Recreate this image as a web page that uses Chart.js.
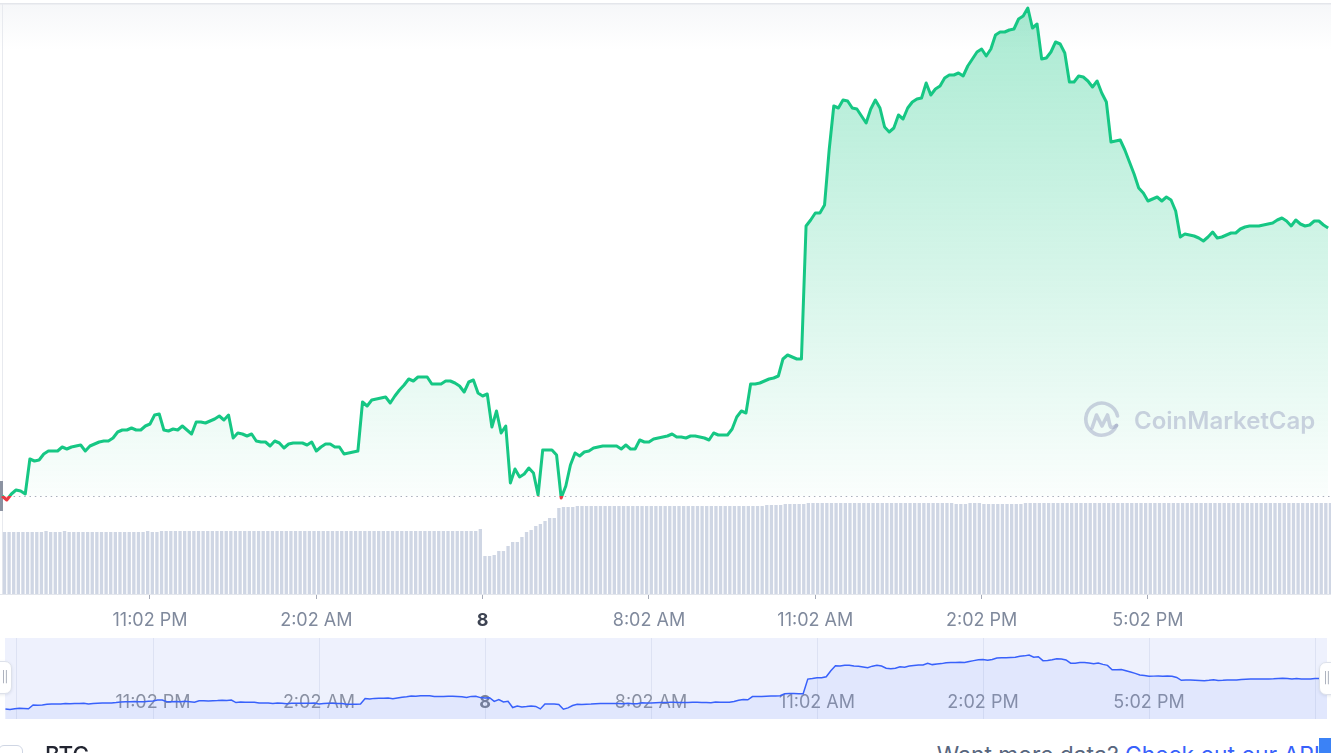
<!DOCTYPE html>
<html>
<head>
<meta charset="utf-8">
<script src="https://cdn.jsdelivr.net/npm/chart.js@4.4.1/dist/chart.umd.min.js"></script>
<style>
    html, body {
        margin: 0;
        padding: 0;
        width: 1331px;
        height: 753px;
        overflow: hidden;
        background: #fff;
        font-family: Inter, "Noto Sans", sans-serif;
    }
    .top-shade {
        position: absolute; left: 0; top: 0; width: 1331px; height: 50px;
        background: linear-gradient(#fff 0, #fff 3px, #e4e6eb 3px, #e4e6eb 4px, #f6f7f9 5px, #fff 50px);
    }
    .left-rule { position: absolute; left: 2px; top: 4px; width: 1px; height: 590px; background: #e8eaef; }
    .price-tag { position: absolute; left: 0; top: 481px; width: 3px; height: 30px; background: #8c93a2; }
    #main-wrap { position: absolute; left: 0; top: 0; width: 1331px; height: 636px; }
    .watermark {
        position: absolute; left: 1083px; top: 401px; height: 38px;
        display: flex; align-items: center; gap: 13px;
        color: rgba(150, 158, 190, 0.45);
        font-size: 24px; font-weight: 600; pointer-events: none;
    }
    #nav-wrap { position: absolute; left: 5px; top: 638px; width: 1322px; height: 81px; background: #eef1fd; }
    .handle {
        position: absolute; width: 13px; height: 31px; background: #fff;
        border: 1px solid #dde1ea; box-shadow: 0 1px 3px rgba(88, 102, 126, 0.15);
        color: #a1a7b5; font-size: 11px; line-height: 31px; text-align: center; letter-spacing: -1px;
    }
    .handle.left { left: -3px; top: 661px; border-radius: 0 7px 7px 0; }
    .handle.right { left: 1319px; top: 662px; border-radius: 7px 0 0 7px; }
    .check { position: absolute; left: -2px; top: 745px; width: 23px; height: 23px; border: 1px solid #cfd6e4; border-radius: 6px; }
    .coin { position: absolute; left: 45px; top: 743px; font-size: 22.5px; font-weight: 500; color: #222531; line-height: 23px; }
    .more { position: absolute; right: 11px; top: 743px; font-size: 22.8px; color: #58667e; line-height: 23px; white-space: nowrap; }
    .more a { color: #3861fb; text-decoration: none; }
    .caret { position: absolute; left: 1319px; top: 738px; width: 12px; height: 15px; background: #3b82f6; }
</style>
</head>
<body>
<div class="top-shade"></div>
<div class="left-rule"></div>
<div class="price-tag"></div>
<div id="main-wrap"><canvas id="mainChart"></canvas></div>
<div class="watermark">
    <svg width="38" height="38" viewBox="0 0 38 38" fill="none" stroke="currentColor" stroke-width="3.6" stroke-linecap="round" stroke-linejoin="round">
        <path d="M33.5 24.5 A16 16 0 1 1 34.5 15"/>
        <path d="M9 27 L13.5 14 L19 25 L24.5 14 L27 24.5 Q28.5 28.5 33.5 24.5"/>
    </svg>
    <span>CoinMarketCap</span>
</div>
<div id="nav-wrap"><canvas id="navChart"></canvas></div>
<div class="handle left">||</div>
<div class="handle right">||</div>
<div class="check"></div>
<div class="coin">BTC</div>
<div class="more">Want more data? <a>Check out our API</a></div>
<div class="caret"></div>

<script>
// 24h of 5 minute candles, minute 0 = 8:22 PM
const stepMinutes = 5

const prices = [
    104, 100, 106, 110, 109, 106, 141, 139, 140, 146, 149, 149,
    149, 153, 151, 153, 154, 155, 149, 154, 156, 158, 159, 159,
    162, 168, 170, 170, 172, 170, 170, 174, 176, 185, 186, 170,
    169, 171, 170, 174, 170, 166, 178, 178, 177, 179, 181, 184,
    180, 185, 162, 167, 166, 164, 166, 159, 158, 158, 154, 159,
    157, 152, 156, 157, 157, 157, 155, 158, 149, 153, 156, 156,
    153, 153, 146, 147, 148, 149, 198, 194, 200, 201, 202, 203,
    197, 204, 210, 215, 221, 219, 223, 223, 223, 216, 216, 216,
    219, 219, 217, 214, 208, 218, 220, 207, 204, 206, 173, 189,
    167, 174, 117, 131, 123, 126, 132, 127, 105, 150, 150, 150,
    145, 102, 114, 135, 147, 144, 148, 149, 152, 153, 154, 154,
    154, 154, 151, 155, 151, 151, 160, 158, 158, 161, 162, 163,
    164, 166, 163, 163, 162, 164, 164, 163, 162, 160, 167, 165,
    165, 165, 171, 183, 189, 187, 216, 216, 217, 219, 221, 222,
    224, 241, 245, 243, 241, 241, 374, 380, 387, 387, 395, 450,
    494, 492, 500, 499, 492, 491, 484, 477, 491, 500, 492, 473,
    468, 472, 485, 481, 492, 498, 501, 502, 517, 505, 511, 514,
    522, 525, 525, 527, 524, 534, 541, 548, 551, 544, 551, 565,
    568, 568, 570, 571, 581, 584, 592, 572, 576, 541, 542, 548,
    558, 556, 547, 518, 518, 524, 523, 519, 513, 519, 507, 498,
    458, 459, 460, 450, 438, 426, 412, 407, 399, 401, 403, 399,
    403, 400, 389, 363, 366, 365, 364, 362, 359, 363, 368, 362,
    363, 365, 367, 367, 371, 373, 374, 374, 374, 375, 376, 377,
    380, 382, 379, 374, 380, 376, 374, 375, 379, 379, 375, 372
]

const volumes = [
    62, 62, 62, 62, 62, 62, 62, 62, 62, 63, 62, 62,
    62, 63, 62, 62, 62, 62, 62, 62, 62, 62, 62, 62,
    62, 62, 62, 62, 62, 62, 62, 63, 62, 62, 63, 63,
    63, 63, 63, 63, 63, 63, 63, 63, 63, 63, 63, 63,
    63, 63, 63, 63, 63, 63, 63, 63, 63, 63, 63, 63,
    63, 63, 63, 63, 63, 63, 63, 63, 63, 63, 63, 63,
    63, 63, 63, 63, 63, 63, 63, 63, 63, 63, 63, 63,
    63, 63, 63, 63, 63, 63, 63, 63, 63, 63, 63, 63,
    63, 63, 63, 63, 63, 63, 63, 65, 38, 38, 39, 43,
    43, 48, 52, 52, 57, 62, 64, 68, 70, 73, 76, 76,
    86, 87, 87, 87, 88, 88, 88, 88, 88, 88, 88, 88,
    88, 88, 88, 88, 88, 88, 88, 88, 88, 88, 88, 88,
    88, 88, 88, 88, 88, 88, 88, 88, 88, 88, 88, 88,
    88, 88, 88, 88, 88, 88, 88, 88, 88, 89, 89, 89,
    89, 90, 90, 90, 90, 90, 91, 91, 91, 91, 91, 91,
    91, 91, 91, 91, 91, 91, 91, 91, 91, 91, 91, 91,
    91, 91, 91, 91, 91, 91, 91, 91, 91, 91, 91, 91,
    91, 91, 90, 90, 90, 91, 91, 91, 90, 90, 90, 90,
    90, 90, 90, 90, 90, 91, 91, 91, 91, 91, 91, 91,
    91, 91, 91, 91, 91, 91, 91, 91, 91, 91, 91, 91,
    91, 91, 91, 91, 91, 91, 91, 91, 91, 91, 91, 91,
    91, 91, 91, 91, 91, 91, 91, 91, 91, 91, 91, 91,
    91, 91, 91, 91, 91, 91, 91, 91, 91, 91, 91, 91,
    91, 91, 91, 91, 91, 91, 91, 91, 91, 91, 91, 91
]

const tickMinutes = [160, 340, 520, 700, 880, 1060, 1240]
const tickLabels = ['11:02 PM', '2:02 AM', '8', '8:02 AM', '11:02 AM', '2:02 PM', '5:02 PM']
// navigator selection edges
const navEdges = [11, 1420]

const openPrice = prices[0]
const up = '#16c784'
const down = '#ea3943'

const pricePoints = prices.map((p, i) => ({ x: i * stepMinutes, y: p }))
const volumePoints = volumes.map((v, i) => ({ x: i * stepMinutes + stepMinutes / 2, y: v }))

function lineColor(context) {
    const chart = context.chart
    const area = chart.chartArea
    if (!area) return up
    const base = chart.scales.y.getPixelForValue(openPrice)
    let stop = (base - area.top) / (area.bottom - area.top)
    stop = Math.min(1, Math.max(0, stop))
    const g = chart.ctx.createLinearGradient(0, area.top, 0, area.bottom)
    g.addColorStop(0, up)
    g.addColorStop(stop, up)
    g.addColorStop(stop, down)
    g.addColorStop(1, down)
    return g
}

function fillColor(context) {
    const chart = context.chart
    const area = chart.chartArea
    if (!area) return 'rgba(22, 199, 132, 0.2)'
    const base = chart.scales.y.getPixelForValue(openPrice)
    const g = chart.ctx.createLinearGradient(0, area.top, 0, base)
    g.addColorStop(0, 'rgba(22, 199, 132, 0.37)')
    g.addColorStop(1, 'rgba(22, 199, 132, 0.02)')
    return g
}

// dotted line at the opening price
const openLine = {
    id: 'openLine',
    beforeDatasetsDraw(chart) {
        const { ctx, chartArea } = chart
        const y = Math.round(chart.scales.y.getPixelForValue(openPrice)) + 0.5
        ctx.save()
        ctx.strokeStyle = '#a9aebb'
        ctx.lineWidth = 1
        ctx.setLineDash([1.5, 3.8])
        ctx.beginPath()
        ctx.moveTo(chartArea.left + 3, y)
        ctx.lineTo(chartArea.right, y)
        ctx.stroke()
        ctx.restore()
    }
}

new Chart(document.getElementById('mainChart'), {
    type: 'line',
    data: {
        datasets: [{
            label: 'Price',
            data: pricePoints,
            yAxisID: 'y',
            borderColor: lineColor,
            backgroundColor: fillColor,
            borderWidth: 3,
            pointRadius: 0,
            tension: 0,
            borderJoinStyle: 'round',
            fill: { target: { value: openPrice }, below: 'rgba(234, 57, 67, 0.12)' },
            order: 0
        },
        {
            type: 'bar',
            label: 'Volume',
            data: volumePoints,
            yAxisID: 'vol',
            backgroundColor: '#cfd6e4',
            borderWidth: 0,
            barPercentage: 0.72,
            categoryPercentage: 1,
            order: 1
        }]
    },
    options: {
        responsive: true,
        maintainAspectRatio: false,
        animation: false,
        layout: { padding: 0 },
        scales: {
            x: {
                type: 'linear',
                min: -2.33,
                max: 1438.1,
                offset: false,
                afterBuildTicks: (scale) => {
                    scale.ticks = tickMinutes.map(v => ({ value: v }))
                },
                afterFit: (scale) => {
                    scale.height = 42
                },
                grid: {
                    offset: false,
                    drawOnChartArea: false,
                    tickLength: 5,
                    color: '#a6abb8'
                },
                border: { display: true, color: '#e3e6ec' },
                ticks: {
                    autoSkip: false,
                    maxRotation: 0,
                    padding: 11,
                    callback: (value, index) => tickLabels[index],
                    color: (ctx) => tickLabels[ctx.index] === '8' ? '#3d4352' : '#808a9d',
                    font: (ctx) => ({
                        family: 'Inter',
                        size: 18,
                        weight: tickLabels[ctx.index] === '8' ? '700' : '400'
                    })
                }
            },
            y: {
                display: false,
                min: 6,
                max: 600
            },
            vol: {
                display: false,
                min: 0,
                max: 594
            }
        },
        plugins: {
            legend: { display: false },
            tooltip: { enabled: false }
        }
    },
    plugins: [openLine]
});

// navigator grid and labels sit under the line
const navDecor = {
    id: 'navDecor',
    beforeDatasetsDraw(chart) {
        const { ctx, chartArea } = chart
        const x = chart.scales.x
        ctx.save()
        ctx.strokeStyle = '#dde2f3'
        ctx.lineWidth = 1
        navEdges.concat(tickMinutes).forEach(m => {
            const px = Math.round(x.getPixelForValue(m)) + 0.5
            ctx.beginPath()
            ctx.moveTo(px, chartArea.top)
            ctx.lineTo(px, chartArea.bottom)
            ctx.stroke()
        })
        ctx.textAlign = 'center'
        ctx.textBaseline = 'middle'
        tickMinutes.forEach((m, i) => {
            const bold = tickLabels[i] === '8'
            ctx.font = (bold ? '700 ' : '400 ') + '18px Inter'
            ctx.fillStyle = bold ? '#7a8194' : '#8a91a3'
            ctx.fillText(tickLabels[i], x.getPixelForValue(m), 65)
        })
        ctx.restore()
    }
}

new Chart(document.getElementById('navChart'), {
    type: 'line',
    data: {
        datasets: [{
            label: 'Navigator',
            data: pricePoints,
            borderColor: '#3861fb',
            backgroundColor: 'rgba(56, 97, 251, 0.07)',
            borderWidth: 1.5,
            pointRadius: 0,
            tension: 0,
            fill: 'start'
        }]
    },
    options: {
        responsive: true,
        maintainAspectRatio: false,
        animation: false,
        layout: { padding: 0 },
        scales: {
            x: { type: 'linear', display: false, min: -0.48, max: 1433 },
            y: { display: false, min: 13.7, max: 745.4 }
        },
        plugins: {
            legend: { display: false },
            tooltip: { enabled: false }
        }
    },
    plugins: [navDecor]
});
</script>
</body>
</html>
